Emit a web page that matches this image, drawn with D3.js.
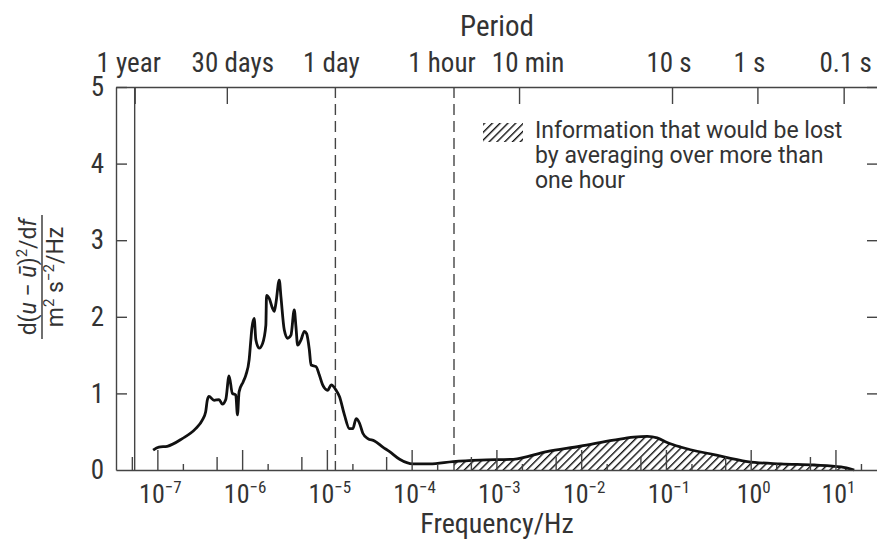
<!DOCTYPE html>
<html>
<head>
<meta charset="utf-8">
<script src="https://cdn.jsdelivr.net/npm/d3@7/dist/d3.min.js"></script>
<style>
  body { margin: 0; background: #fff; }
  svg text { fill: #333; }
</style>
</head>
<body>
<svg id="chart" width="877" height="540"></svg>
<script>
// spectrum: log10(frequency / Hz) and spectral density
var curveLogHz = [-7.050, -6.982, -6.884, -6.706, -6.548, -6.470, -6.430, -6.411, -6.391, -6.331,
  -6.272, -6.233, -6.193, -6.154, -6.115, -6.075, -6.055, -6.036, -5.988, -5.956,
  -5.917, -5.897, -5.885, -5.858, -5.838, -5.799, -5.759, -5.720, -5.712, -5.680,
  -5.641, -5.621, -5.601, -5.562, -5.542, -5.503, -5.464, -5.424, -5.385, -5.365,
  -5.345, -5.305, -5.266, -5.239, -5.207, -5.187, -5.128, -5.089, -5.050, -4.990,
  -4.950, -4.891, -4.852, -4.793, -4.734, -4.694, -4.655, -4.615, -4.576, -4.517,
  -4.438, -4.340, -4.260, -4.142, -3.985, -3.787, -3.511, -3.195, -2.801, -2.406,
  -2.012, -1.618, -1.381, -1.219, -1.104, -0.986, -0.828, -0.434, -0.040, 0.355,
  0.749, 1.065, 1.222];
var curvePsd = [0.26, 0.30, 0.31, 0.41, 0.54, 0.65, 0.76, 0.91, 0.96, 0.91,
  0.92, 0.86, 0.92, 1.23, 1.00, 0.98, 0.72, 1.02, 1.15, 1.24,
  1.44, 1.70, 1.85, 1.98, 1.70, 1.59, 1.65, 1.89, 2.28, 2.24,
  2.11, 2.07, 2.18, 2.48, 2.26, 1.83, 1.72, 1.76, 2.09, 1.87,
  1.63, 1.70, 1.81, 1.78, 1.57, 1.37, 1.35, 1.24, 1.11, 1.04,
  1.11, 1.04, 0.96, 0.72, 0.54, 0.54, 0.67, 0.61, 0.48, 0.41,
  0.38, 0.30, 0.24, 0.14, 0.08, 0.08, 0.11, 0.13, 0.14, 0.24,
  0.31, 0.39, 0.43, 0.44, 0.42, 0.36, 0.30, 0.20, 0.11, 0.08,
  0.065, 0.04, 0.0];

var decadeExps = [-8, -7, -6, -5, -4, -3, -2, -1, 0, 1];
var labelExps = [-7, -6, -5, -4, -3, -2, -1, 0, 1];
var yTicks = [0, 1, 2, 3, 4, 5];

// top "Period" axis, positions as drawn in the figure (Hz)
var periodLabels = ["1 year", "30 days", "1 day", "1 hour", "10 min", "10 s", "1 s", "0.1 s"];
var periodHz = [5.4e-8, 6.6e-7, 1.26e-5, 3.16e-4, 1.85e-3, 0.118, 1.2, 12.5];
var periodMark = ["solid", "tick", "dash", "dash", "tick", "tick", "tick", "tick"];

var legendLines = ["Information that would be lost", "by averaging over more than", "one hour"];
var hatchFromHz = periodHz[3]; // averaging over one hour

var mLeft = 116, mRight = 878, mTop = 87, mBottom = 470;
var NARROW = '"Liberation Sans Narrow", "Arial Narrow", "Roboto Condensed", Roboto, sans-serif';
var PLAIN = 'Roboto, "Liberation Sans", Arial, sans-serif';
var labelDx = [-6, 6, -4, -12, 9, -3, -8, 2]; // label nudges, as set in the figure

var svg = d3.select("#chart");

var x = d3.scaleLog().domain([Math.pow(10, -7.488), Math.pow(10, 1.502)]).range([mLeft, mRight]);
var y = d3.scaleLinear().domain([0, 5]).range([mBottom, mTop]);

var pts = curveLogHz.map(function (l, i) { return { f: Math.pow(10, l), v: curvePsd[i] }; });

var defs = svg.append("defs");
var pat = defs.append("pattern")
  .attr("id", "hatch")
  .attr("patternUnits", "userSpaceOnUse")
  .attr("width", 5.5).attr("height", 5.5)
  .attr("patternTransform", "rotate(45)");
pat.append("line")
  .attr("x1", 0).attr("y1", 0).attr("x2", 0).attr("y2", 5.5)
  .attr("stroke", "#111").attr("stroke-width", 2.8);

defs.append("clipPath").attr("id", "hatchClip")
  .append("rect")
  .attr("x", x(hatchFromHz)).attr("y", mTop)
  .attr("width", mRight - x(hatchFromHz)).attr("height", mBottom - mTop);

// hatched area
var area = d3.area()
  .x(function (d) { return x(d.f); })
  .y0(y(0))
  .y1(function (d) { return y(d.v); })
  .curve(d3.curveMonotoneX);

svg.append("path")
  .datum(pts)
  .attr("d", area)
  .attr("fill", "url(#hatch)")
  .attr("clip-path", "url(#hatchClip)");

// period lines
periodHz.forEach(function (hz, i) {
  if (periodMark[i] === "tick") return;
  svg.append("line")
    .attr("x1", x(hz)).attr("x2", x(hz))
    .attr("y1", mTop).attr("y2", mBottom)
    .attr("stroke", "#444")
    .attr("stroke-width", 1.4)
    .attr("stroke-dasharray", periodMark[i] === "dash" ? "11,6" : null);
});

// spectrum curve
var line = d3.line()
  .x(function (d) { return x(d.f); })
  .y(function (d) { return y(d.v); })
  .curve(d3.curveMonotoneX);

svg.append("path")
  .datum(pts)
  .attr("d", line)
  .attr("fill", "none")
  .attr("stroke", "#111")
  .attr("stroke-width", 2.8)
  .attr("stroke-linejoin", "round");

// bottom axis: decades tall, 5s medium, 2s short
function inDomain(v) { return v >= x.domain()[0] && v <= x.domain()[1]; }
var majors = decadeExps.map(function (e) { return Math.pow(10, e); }).filter(inDomain);
var fives = decadeExps.map(function (e) { return 5 * Math.pow(10, e); }).filter(inDomain);
var twos = decadeExps.map(function (e) { return 2 * Math.pow(10, e); }).filter(inDomain);

function styleAxis(g) {
  g.selectAll("path, line").attr("stroke", "#444").attr("stroke-width", 1.4);
}

svg.append("g").attr("transform", "translate(0," + mBottom + ")")
  .call(d3.axisBottom(x).tickValues(majors).tickSize(-20).tickSizeOuter(0).tickFormat(""))
  .call(styleAxis);
[[fives, -13], [twos, -6]].forEach(function (p) {
  svg.append("g").attr("transform", "translate(0," + mBottom + ")")
    .call(d3.axisBottom(x).tickValues(p[0]).tickSize(p[1]).tickFormat(""))
    .call(styleAxis)
    .select(".domain").remove();
});

var xl = svg.append("g").attr("font-family", NARROW);
labelExps.forEach(function (e) {
  var t = xl.append("text")
    .attr("x", x(Math.pow(10, e)) + 3)
    .attr("y", 503)
    .attr("text-anchor", "middle")
    .attr("font-size", 26);
  t.append("tspan").text("10");
  t.append("tspan").attr("dy", -10).attr("font-size", 17).text(String(e).replace("-", "\u2212"));
});

svg.append("text")
  .attr("x", 497).attr("y", 533)
  .attr("text-anchor", "middle")
  .attr("font-family", NARROW).attr("font-size", 28)
  .text("Frequency/Hz");

// left and right y axes
var yl = svg.append("g").attr("transform", "translate(" + mLeft + ",0)")
  .call(d3.axisLeft(y).tickValues(yTicks).tickSize(-11).tickSizeOuter(0).tickPadding(12)
    .tickFormat(d3.format("d")))
  .call(styleAxis);
yl.selectAll("text")
  .attr("font-family", NARROW).attr("font-size", 27)
  .attr("fill", "#333");
yl.selectAll(".tick line").filter(function (d) { return d === 0; }).remove();

svg.append("g").attr("transform", "translate(" + mRight + ",0)")
  .call(d3.axisRight(y).tickValues(yTicks.slice(1)).tickSize(-11).tickSizeOuter(0).tickFormat(""))
  .call(styleAxis);

// top axis
var tickOnly = periodHz.filter(function (hz, i) { return periodMark[i] !== "dash"; });
svg.append("g").attr("transform", "translate(0," + mTop + ")")
  .call(d3.axisTop(x).tickValues(tickOnly).tickSize(-17).tickSizeOuter(0).tickFormat(""))
  .call(styleAxis);

var tl = svg.append("g").attr("font-family", NARROW).attr("font-size", 27);
periodLabels.forEach(function (s, i) {
  tl.append("text")
    .attr("x", x(periodHz[i]) + labelDx[i])
    .attr("y", 72)
    .attr("text-anchor", "middle")
    .text(s);
});

svg.append("text")
  .attr("x", 497).attr("y", 36)
  .attr("text-anchor", "middle")
  .attr("font-family", NARROW).attr("font-size", 29)
  .text("Period");

// y label as a fraction
var yt = svg.append("g")
  .attr("transform", "translate(0,277) rotate(-90)")
  .attr("font-family", PLAIN).attr("font-size", 23);
var num = yt.append("text").attr("x", 0).attr("y", 36).attr("text-anchor", "middle");
num.append("tspan").text("d(");
num.append("tspan").attr("font-style", "italic").text("u");
num.append("tspan").text(" \u2212 ");
num.append("tspan").attr("font-style", "italic").text("\u016B");
num.append("tspan").text(")");
num.append("tspan").attr("dy", -9).attr("font-size", 15).text("2");
num.append("tspan").attr("dy", 9).text("/d");
num.append("tspan").attr("font-style", "italic").text("f");

yt.append("line")
  .attr("x1", -62).attr("x2", 62)
  .attr("y1", 42).attr("y2", 42)
  .attr("stroke", "#333").attr("stroke-width", 1.4);

var den = yt.append("text").attr("x", 0).attr("y", 63).attr("text-anchor", "middle");
den.append("tspan").text("m");
den.append("tspan").attr("dy", -9).attr("font-size", 15).text("2");
den.append("tspan").attr("dy", 9).text(" s");
den.append("tspan").attr("dy", -9).attr("font-size", 15).text("\u22122");
den.append("tspan").attr("dy", 9).text("/Hz");

// legend
svg.append("rect")
  .attr("x", 483).attr("y", 123)
  .attr("width", 40).attr("height", 19)
  .attr("fill", "url(#hatch)");

var lg = svg.append("g").attr("font-family", PLAIN).attr("font-size", 23);
legendLines.forEach(function (s, i) {
  lg.append("text")
    .attr("x", 535)
    .attr("y", 138 + i * 25)
    .text(s);
});
</script>
</body>
</html>
